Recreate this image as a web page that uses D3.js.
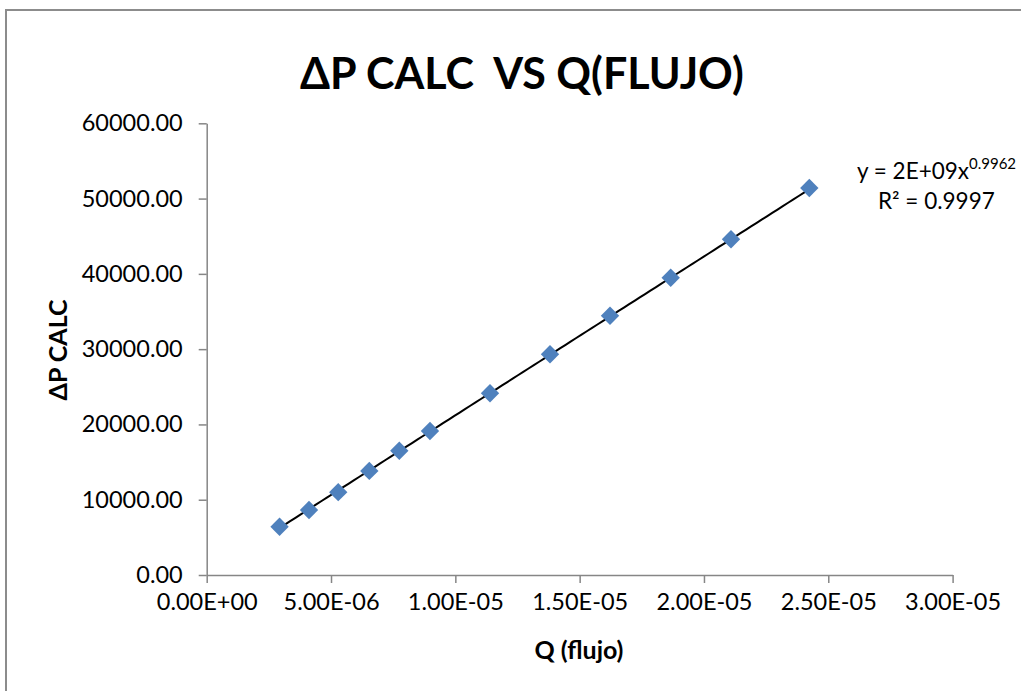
<!DOCTYPE html>
<html>
<head>
<meta charset="utf-8">
<script src="https://cdn.jsdelivr.net/npm/d3@7"></script>
<style>
  html, body { margin: 0; padding: 0; background: #fff; }
  svg { display: block; }
  text { font-family: Lato, "Open Sans", sans-serif; fill: #000; white-space: pre; }
</style>
</head>
<body>
<svg id="chart" width="1021" height="691"></svg>
<script>
// Flow rate Q (m³/s) and calculated pressure drop ΔP
const flowQ = [2.93e-6, 4.115e-6, 5.29e-6, 6.54e-6, 7.746e-6, 8.98e-6,
               1.1394e-5, 1.3808e-5, 1.6221e-5, 1.8662e-5, 2.1087e-5, 2.4237e-5];
const deltaP = [6408, 8630, 11008, 13830, 16511, 19128,
                24136, 29316, 34443, 39491, 44592, 51400];

const xTicks = [0, 5e-6, 1e-5, 1.5e-5, 2e-5, 2.5e-5, 3e-5];
const yTicks = [0, 10000, 20000, 30000, 40000, 50000, 60000];

const chartTitle = "ΔP CALC  VS Q(FLUJO)";
const xTitle = "Q (flujo)";
const yTitle = "ΔP CALC";

const svg = d3.select("#chart");
const W = 1021, H = 691;

// outer chart frame
svg.append("rect")
  .attr("x", 6).attr("y", 10)
  .attr("width", W + 10).attr("height", H + 10)
  .attr("fill", "#fff")
  .attr("stroke", "#8c8c8c").attr("stroke-width", 2);

const plot = { left: 206.7, right: 952.6, top: 123.3, bottom: 575 };

const x = d3.scaleLinear().domain([0, 3e-5]).range([plot.left, plot.right]);
const y = d3.scaleLinear().domain([0, 60000]).range([plot.bottom, plot.top]);

const axisColor = "#868686";

// X axis
const xAxis = svg.append("g")
  .attr("transform", `translate(0,${plot.bottom})`)
  .call(d3.axisBottom(x).tickValues(xTicks).tickSizeInner(8).tickSizeOuter(0).tickPadding(10)
    .tickFormat(d => {
      const s = d.toExponential(2).toUpperCase();
      return s.replace(/E([+-])(\d)$/, "E$10$2");
    }));
xAxis.select(".domain").attr("stroke", axisColor).attr("stroke-width", 1.5);
xAxis.selectAll(".tick line").attr("stroke", axisColor).attr("stroke-width", 1.5);
xAxis.selectAll(".tick text")
  .attr("font-family", "Lato, sans-serif").attr("font-size", 23.5).attr("fill", "#000");

// Y axis
const yAxis = svg.append("g")
  .attr("transform", `translate(${plot.left},0)`)
  .call(d3.axisLeft(y).tickValues(yTicks).tickSizeInner(8).tickSizeOuter(0).tickPadding(16)
    .tickFormat(d => d.toFixed(2)));
yAxis.select(".domain").attr("stroke", axisColor).attr("stroke-width", 1.5);
yAxis.selectAll(".tick line").attr("stroke", axisColor).attr("stroke-width", 1.5);
yAxis.selectAll(".tick text")
  .attr("font-family", "Lato, sans-serif").attr("font-size", 23.5).attr("fill", "#000");

// Power trendline fit: ln(y) = ln(a) + b ln(x)
const lx = flowQ.map(Math.log), ly = deltaP.map(Math.log);
const n = lx.length;
const mx = d3.mean(lx), my = d3.mean(ly);
let sxy = 0, sxx = 0, syy = 0;
for (let i = 0; i < n; i++) {
  sxy += (lx[i] - mx) * (ly[i] - my);
  sxx += (lx[i] - mx) ** 2;
  syy += (ly[i] - my) ** 2;
}
const b = sxy / sxx;
const a = Math.exp(my - b * mx);
const r2 = (sxy * sxy) / (sxx * syy);

const xs = d3.range(0, 101).map(i => d3.min(flowQ) + (d3.max(flowQ) - d3.min(flowQ)) * i / 100);
svg.append("path")
  .datum(xs)
  .attr("fill", "none")
  .attr("stroke", "#000")
  .attr("stroke-width", 2)
  .attr("d", d3.line().x(d => x(d)).y(d => y(a * Math.pow(d, b))));

// Data markers (diamonds)
svg.append("g").selectAll("path")
  .data(flowQ.map((q, i) => [q, deltaP[i]]))
  .join("path")
  .attr("transform", d => `translate(${x(d[0])},${y(d[1])})`)
  .attr("d", d3.symbol().type(d3.symbolDiamond2).size(215))
  .attr("fill", "#4f81bd");

// Trendline equation
const aStr = a.toExponential(0).toUpperCase().replace(/E([+-])(\d)$/, "E$10$2");
const eq = svg.append("text")
  .attr("x", 857).attr("y", 179)
  .attr("font-size", 22.5);
eq.append("tspan").text(`y = ${aStr}x`);
eq.append("tspan").attr("dy", -10).attr("font-size", 15).text(b.toFixed(4));
svg.append("text")
  .attr("x", 878).attr("y", 209)
  .attr("font-size", 22.5)
  .text(`R² = ${r2.toFixed(4)}`);

// Titles
svg.append("text")
  .attr("x", 522).attr("y", 89)
  .attr("text-anchor", "middle")
  .attr("font-size", 43).attr("font-weight", "bold")
  .text(chartTitle);

svg.append("text")
  .attr("x", 579).attr("y", 659)
  .attr("text-anchor", "middle")
  .attr("font-size", 25).attr("font-weight", "bold")
  .text(xTitle);

svg.append("text")
  .attr("transform", "translate(67,350) rotate(-90)")
  .attr("text-anchor", "middle")
  .attr("font-size", 25).attr("font-weight", "bold")
  .text(yTitle);
</script>
</body>
</html>
